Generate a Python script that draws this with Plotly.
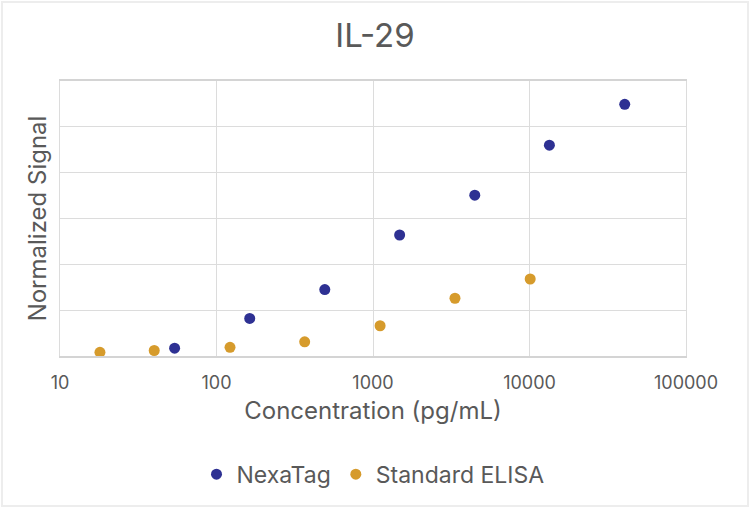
import plotly.graph_objects as go

# (3-fold dilution series)
nexatag_conc = [54, 163, 492, 1480, 4470, 13400, 40600]
nexatag_signal = [0.17, 0.82, 1.45, 2.64, 3.51, 4.60, 5.49]

elisa_conc = [18, 40, 122, 366, 1110, 3340, 10100]
elisa_signal = [0.08, 0.12, 0.19, 0.31, 0.66, 1.26, 1.68]

x_ticks = [10, 100, 1000, 10000, 100000]

grey = "#595959"
font_name = "Inter"

fig = go.Figure()
fig.add_trace(go.Scatter(x=nexatag_conc, y=nexatag_signal, mode="markers", name="NexaTag",
                         marker=dict(color="#2E3193", size=11)))
fig.add_trace(go.Scatter(x=elisa_conc, y=elisa_signal, mode="markers", name="Standard ELISA",
                         marker=dict(color="#D69B2C", size=11)))

fig.update_layout(
    width=750, height=508,
    margin=dict(l=60, r=64, t=81, b=152),
    paper_bgcolor="white", plot_bgcolor="white",
    font=dict(family=font_name, color=grey, size=18),
    title=dict(text="IL-29", x=0.5, xanchor="center", y=0.93, yanchor="middle",
               font=dict(size=33, color=grey)),
    legend=dict(orientation="h", x=0.5, xanchor="center", y=-0.43, yanchor="middle",
                font=dict(size=23, color=grey), itemwidth=30),
    showlegend=True,
)
fig.update_xaxes(type="log", range=[1, 5], tickvals=x_ticks, ticktext=[str(v) for v in x_ticks],
                 showgrid=True, gridcolor="#dcdcdc", showline=True, linecolor="#d4d4d4", linewidth=1.5,
                 mirror=True, ticks="", zeroline=False, tickfont=dict(size=18), ticklabelstandoff=10,
                 title=dict(text="Concentration (pg/mL)", font=dict(size=24), standoff=10))
fig.update_yaxes(range=[0, 6], dtick=1, showticklabels=False, showgrid=True, gridcolor="#dcdcdc",
                 showline=True, linecolor="#dcdcdc", mirror=True, zeroline=False, ticks="",
                 title=dict(text="Normalized Signal", font=dict(size=24), standoff=5))

# faint frame around the whole chart
fig.add_shape(type="rect", xref="paper", yref="paper",
              x0=-58 / 626, x1=1 + 62 / 626, y0=-150 / 275, y1=1 + 79 / 275,
              line=dict(color="#ededed", width=2), layer="below")

# drop the browser's default body margin so the figure sits at the page corner
fig.write_html("out.html", config={"displayModeBar": False},
               post_script="document.body.style.margin='0px';")
